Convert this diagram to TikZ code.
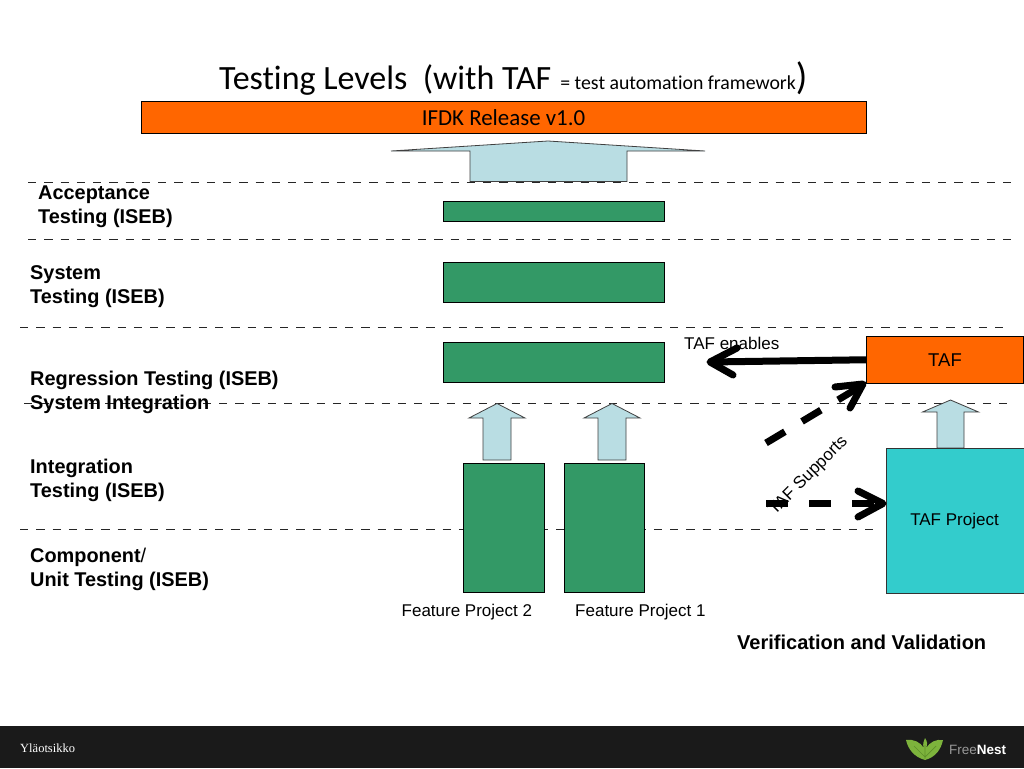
\documentclass[tikz,border=0pt]{standalone}
\usepackage{fontspec}
\setmainfont{Liberation Sans}
\newfontfamily\cali[Ligatures=NoCommon]{Carlito}
\definecolor{orangefill}{HTML}{FF6600}
\definecolor{greenfill}{HTML}{339966}
\definecolor{paleblue}{HTML}{B9DDE3}
\definecolor{tealfill}{HTML}{33CCCC}
\definecolor{footer}{HTML}{1A1A1A}
\definecolor{leaf}{HTML}{7DB33C}
\definecolor{leafdark}{HTML}{5E8F2A}
\tikzset{
  x=1pt,y=-1pt,
  box/.style={draw=black,line width=0.8pt,anchor=north west,inner sep=0pt,outer sep=0pt},
  greenbox/.style={box,fill=greenfill},
  orangebox/.style={box,fill=orangefill},
  level/.style={anchor=north west,align=left,inner sep=0pt,font=\fontsize{19.9}{24}\selectfont\bfseries},
  small/.style={inner sep=0pt,font=\fontsize{17}{20}\selectfont},
  sep/.style={draw=black!85,line width=0.9pt,dash pattern=on 8.4pt off 7.85pt},
  blockarrow/.style={draw=black!75,line width=0.8pt,fill=paleblue,line join=miter},
  heavy/.style={draw=black,line width=7pt},
  barb/.style={heavy,line cap=round,line join=round},
}
\begin{document}
\begin{tikzpicture}
\useasboundingbox (0,0) rectangle (1024,768);
\fill[white] (0,0) rectangle (1024,768);
% separators
\coordinate (s1a) at (28,182.5); \coordinate (s1b) at (1012,182.5);
\coordinate (s2a) at (28,239); \coordinate (s2b) at (1012,239);
\coordinate (s3a) at (20,327.5); \coordinate (s3b) at (1004,327.5);
\coordinate (s4a) at (24,403); \coordinate (s4b) at (1008,403);
\coordinate (s5a) at (20,529); \coordinate (s5b) at (875,529);
\foreach \n in {1,...,5} \draw[sep] (s\n a) -- (s\n b);
% title
\node[anchor=base west,inner sep=0pt] (title) at (219,89) {\cali\fontsize{34}{38}\selectfont Testing Levels\ \ (with TAF\hspace{9pt}\fontsize{19.8}{24}\selectfont = test automation framework\fontsize{38}{38}\selectfont)};
% release
\node[orangebox,minimum width=725.5pt,minimum height=32.5pt] (release) at (141,101) {};
\node[anchor=base,inner sep=0pt] (releasetext) at (503.5,125) {\cali\fontsize{22.9}{27}\selectfont IFDK Release v1.0};
% big block arrow
\draw[blockarrow] (470,181.5) -- (470,151) -- (391,151) -- (548,141) -- (705,151) -- (627,151) -- (627,181.5) -- cycle;
% level labels
\node[level] (l1) at (38,185.5) {Acceptance\\Testing (ISEB)};
\node[level] (l2) at (30,265) {System\\Testing (ISEB)};
\node[level] (l3) at (30,371) {Regression Testing (ISEB)\\System Integration};
\node[level] (l4) at (30,459) {Integration\\Testing (ISEB)};
\node[level] (l5) at (30,548) {Component{\mdseries /}\\Unit Testing (ISEB)};
% green boxes
\node[greenbox,minimum width=221.5pt,minimum height=19.5pt] (g1) at (443,201.5) {};
\node[greenbox,minimum width=221.5pt,minimum height=40pt] (g2) at (443,262) {};
\node[greenbox,minimum width=221.5pt,minimum height=40pt] (g3) at (443,342.5) {};
\node[greenbox,minimum width=81pt,minimum height=129.5pt] (f2) at (463.5,463) {};
\node[greenbox,minimum width=80.5pt,minimum height=129.5pt] (f1) at (564,463) {};
% small block arrows
\draw[blockarrow] (483,460) -- (483,418) -- (469,418) -- (497,403.5) -- (525,418) -- (511,418) -- (511,460) -- cycle;
\draw[blockarrow] (598,460) -- (598,418) -- (584,418) -- (612,403.5) -- (640,418) -- (626,418) -- (626,460) -- cycle;
\draw[blockarrow] (937,448) -- (937,412) -- (922.5,412) -- (950.5,400) -- (978.5,412) -- (964,412) -- (964,448) -- cycle;
% TAF boxes
\node[orangebox,minimum width=157pt,minimum height=47.5pt] (taf) at (866.5,336) {};
\node[inner sep=0pt,font=\fontsize{18.5}{22}\selectfont] (taftext) at (945,360.5) {TAF};
\node[box,fill=tealfill,draw=black!80,minimum width=137.5pt,minimum height=145.5pt] (proj) at (886.5,448) {};
\node[small] (projtext) at (954.5,521) {TAF Project};
% heavy arrows
\coordinate (enablesEnd) at (710,362);
\coordinate (supA) at (766,443);
\coordinate (tafcorner) at (862,385.5);
\coordinate (supB) at (766,503.5);
\coordinate (projleft) at (882,503.5);
\draw[heavy] (taf.west) -- (enablesEnd);
\draw[barb] (737,348) -- (710,362) -- (733,375);
\draw[heavy,dash pattern=on 22pt off 20pt] (supA) -- (tafcorner);
\draw[barb] (835,387) -- (863,384) -- (850,408);
\draw[heavy,dash pattern=on 21.5pt off 21.5pt] (supB) -- (projleft);
\draw[barb] (858,491) -- (883,503.5) -- (858,517);
% labels
\node[small,anchor=base west] (enablestext) at (684,349) {TAF enables};
\node[small,rotate=45] (supports) at (808.5,476) {TAF Supports};
\node[small,anchor=base west] (fp2) at (401.5,616) {Feature Project 2};
\node[small,anchor=base west] (fp1) at (575,616) {Feature Project 1};
\node[anchor=base west,inner sep=0pt,font=\fontsize{20}{24}\selectfont\bfseries] (vv) at (737,649) {Verification and Validation};
% footer
\fill[footer] (0,726) rectangle (1024,768);
\node[anchor=base west,inner sep=0pt,text=white] (foot) at (20,752.5) {\fontspec{Liberation Serif}\fontsize{12.5}{15}\selectfont Yläotsikko};
% logo
\fill[leaf] (925,760) .. controls (914,757) and (908,749) .. (906,740) .. controls (914,739) and (920,742) .. (924,748) .. controls (922,744) and (924,741) .. (925,738) .. controls (927,741) and (928,744) .. (926,748) .. controls (930,742) and (936,739) .. (943,740) .. controls (941,749) and (936,757) .. (925,760) -- cycle;
\draw[leafdark,line width=0.7pt] (925,759) -- (925,745) (925,757) -- (914,746) (925,757) -- (936,746);
\node[anchor=base west,inner sep=0pt,font=\fontsize{13.5}{16}\selectfont,text=gray!80] (fn) at (949,754) {Free\textcolor{white}{\bfseries Nest}};
\end{tikzpicture}
\end{document}
